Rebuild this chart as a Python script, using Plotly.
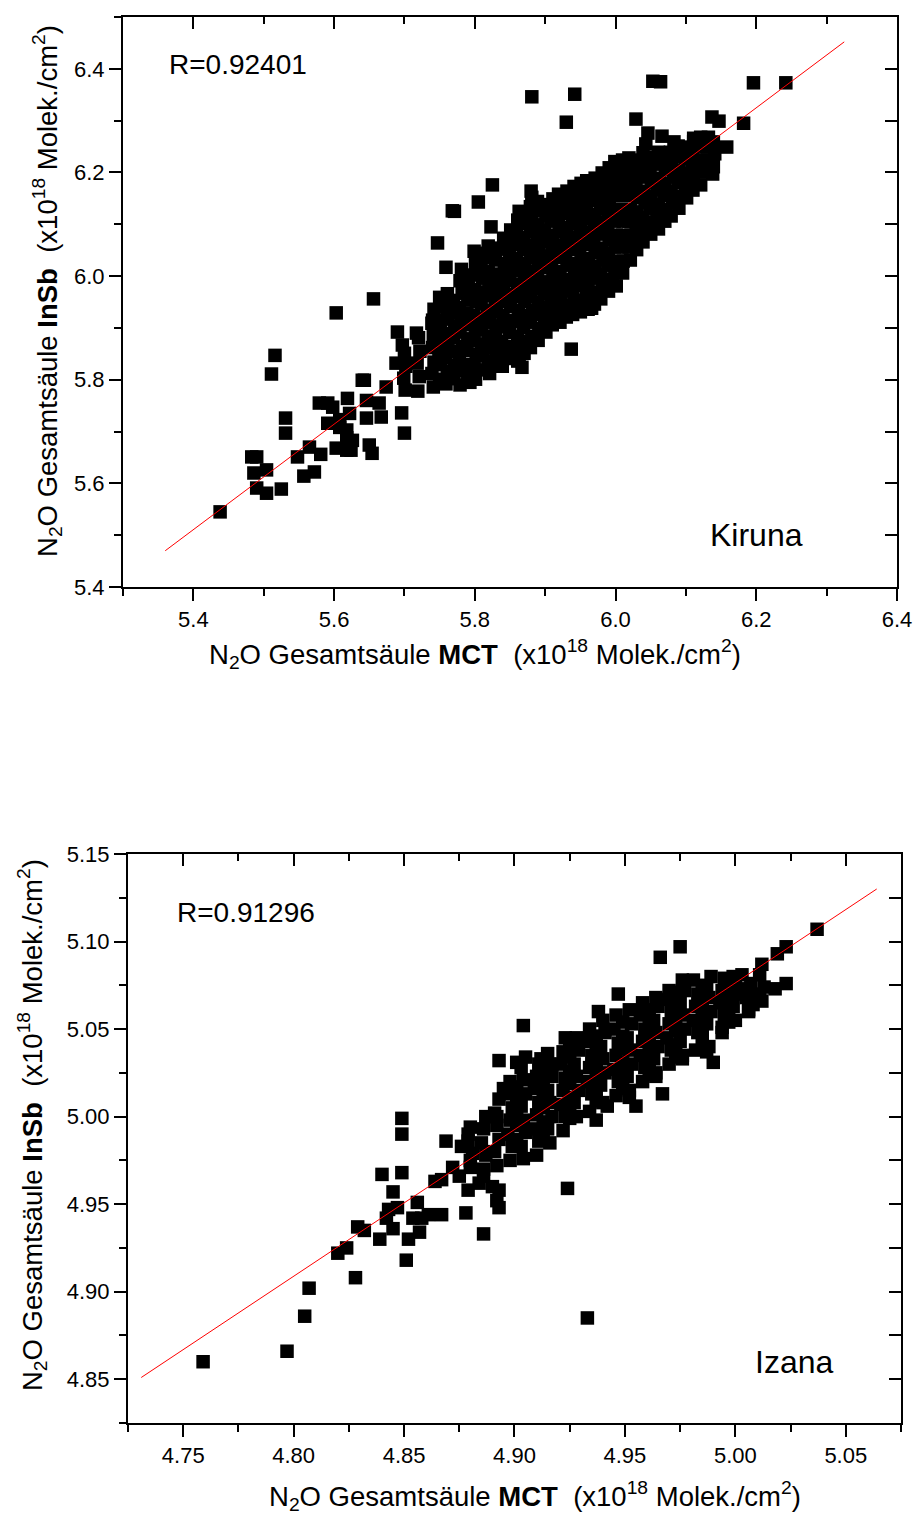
import plotly.graph_objects as go

# N2O total columns, MCT (x) vs InSb (y), in 1e18 molec/cm2
kiruna_points = [
    # scattered points, lower left
    (5.438, 5.545), (5.483, 5.651), (5.490, 5.651), (5.486, 5.620), (5.504, 5.626),
    (5.490, 5.591), (5.504, 5.581), (5.525, 5.589), (5.516, 5.847), (5.511, 5.811),
    (5.531, 5.726), (5.531, 5.697), (5.548, 5.651), (5.565, 5.670), (5.557, 5.614),
    (5.572, 5.622), (5.581, 5.656), (5.591, 5.755), (5.591, 5.716), (5.603, 5.668),
    (5.618, 5.664), (5.619, 5.764), (5.622, 5.735), (5.618, 5.703), (5.626, 5.683),
    (5.608, 5.708), (5.643, 5.799), (5.646, 5.760), (5.646, 5.726), (5.650, 5.674),
    (5.654, 5.658), (5.664, 5.755), (5.667, 5.728), (5.674, 5.786), (5.696, 5.736),
    (5.700, 5.697), (5.688, 5.832), (5.690, 5.892), (5.697, 5.867), (5.603, 5.929),
    (5.656, 5.956), (5.747, 6.064), (5.768, 6.126), (5.759, 6.017), (5.750, 5.959),
    (5.748, 5.915), (5.717, 5.890), (5.740, 5.915), (5.579, 5.755), (5.598, 5.747),
    (5.608, 5.723), (5.618, 5.688), (5.640, 5.799), (5.624, 5.664),
    # scattered points, upper right and below the band
    (5.881, 6.346), (5.942, 6.351), (5.930, 6.297), (6.053, 6.376), (6.064, 6.375),
    (6.196, 6.373), (6.242, 6.373), (6.029, 6.303), (6.182, 6.295), (6.147, 6.299),
    (6.046, 6.276), (6.066, 6.270), (6.043, 6.255), (6.083, 6.259), (6.111, 6.266),
    (6.132, 6.268), (6.158, 6.249), (6.138, 6.197), (5.825, 6.176), (5.805, 6.143),
    (5.771, 6.125), (5.823, 6.095), (5.880, 6.164), (5.863, 6.125), (6.023, 6.077),
    (6.059, 6.112), (5.995, 5.983), (5.966, 5.938), (5.966, 5.965), (5.905, 5.915),
    (5.910, 5.958), (5.937, 5.859), (5.863, 5.844), (5.867, 5.824), (5.793, 5.795),
    (5.835, 5.857), (6.137, 6.307),
    # dense band
    (5.701, 5.780), (5.699, 5.803), (5.702, 5.826), (5.700, 5.851),
    (5.719, 5.778), (5.721, 5.806), (5.718, 5.832), (5.722, 5.855), (5.720, 5.881),
    (5.741, 5.786), (5.739, 5.812), (5.742, 5.834), (5.740, 5.862), (5.741, 5.884),
    (5.739, 5.909), (5.742, 5.936),
    (5.759, 5.792), (5.761, 5.816), (5.758, 5.842), (5.762, 5.866), (5.760, 5.889),
    (5.761, 5.917), (5.758, 5.941), (5.761, 5.966),
    (5.779, 5.790), (5.781, 5.817), (5.778, 5.841), (5.782, 5.864), (5.779, 5.892),
    (5.781, 5.916), (5.778, 5.939), (5.782, 5.967), (5.779, 5.991), (5.781, 6.013),
    (5.801, 5.801), (5.799, 5.826), (5.802, 5.849), (5.799, 5.876), (5.801, 5.901),
    (5.798, 5.924), (5.802, 5.951), (5.800, 5.974), (5.799, 6.002), (5.801, 6.024),
    (5.799, 6.048),
    (5.821, 5.812), (5.819, 5.836), (5.822, 5.861), (5.819, 5.884), (5.821, 5.911),
    (5.818, 5.934), (5.822, 5.962), (5.820, 5.986), (5.819, 6.009), (5.821, 6.036),
    (5.819, 6.058),
    (5.839, 5.826), (5.841, 5.851), (5.838, 5.874), (5.842, 5.902), (5.840, 5.924),
    (5.838, 5.951), (5.841, 5.976), (5.839, 6.001), (5.842, 6.024), (5.839, 6.052),
    (5.841, 6.073),
    (5.861, 5.836), (5.859, 5.861), (5.861, 5.884), (5.859, 5.912), (5.862, 5.934),
    (5.858, 5.961), (5.861, 5.984), (5.860, 6.011), (5.859, 6.034), (5.862, 6.061),
    (5.859, 6.084), (5.861, 6.108),
    (5.879, 5.862), (5.881, 5.884), (5.879, 5.911), (5.882, 5.934), (5.880, 5.961),
    (5.878, 5.986), (5.881, 6.009), (5.879, 6.036), (5.882, 6.059), (5.879, 6.086),
    (5.881, 6.109), (5.879, 6.134), (5.881, 6.152),
    (5.901, 5.892), (5.899, 5.916), (5.902, 5.939), (5.899, 5.966), (5.901, 5.989),
    (5.898, 6.016), (5.902, 6.039), (5.900, 6.066), (5.899, 6.089), (5.901, 6.116),
    (5.899, 6.138),
    (5.921, 5.911), (5.919, 5.936), (5.922, 5.959), (5.919, 5.986), (5.921, 6.009),
    (5.918, 6.036), (5.922, 6.059), (5.920, 6.086), (5.919, 6.109), (5.921, 6.136),
    (5.919, 6.158),
    (5.939, 5.926), (5.941, 5.951), (5.939, 5.974), (5.942, 6.001), (5.940, 6.024),
    (5.938, 6.051), (5.941, 6.074), (5.939, 6.101), (5.942, 6.124), (5.939, 6.151),
    (5.941, 6.173),
    (5.961, 5.936), (5.959, 5.961), (5.961, 5.984), (5.959, 6.011), (5.962, 6.034),
    (5.958, 6.061), (5.961, 6.084), (5.960, 6.111), (5.959, 6.134), (5.962, 6.161),
    (5.959, 6.184),
    (5.979, 5.956), (5.981, 5.981), (5.979, 6.004), (5.982, 6.031), (5.980, 6.054),
    (5.978, 6.081), (5.981, 6.104), (5.979, 6.131), (5.982, 6.154), (5.979, 6.179),
    (5.981, 6.199),
    (6.001, 5.981), (5.999, 6.006), (6.002, 6.029), (5.999, 6.056), (6.001, 6.079),
    (5.998, 6.106), (6.002, 6.129), (6.000, 6.156), (5.999, 6.179), (6.001, 6.204),
    (5.999, 6.221),
    (6.021, 6.031), (6.019, 6.056), (6.022, 6.079), (6.019, 6.106), (6.021, 6.129),
    (6.018, 6.156), (6.022, 6.179), (6.020, 6.204), (6.019, 6.228),
    (6.039, 6.066), (6.041, 6.091), (6.039, 6.114), (6.042, 6.141), (6.040, 6.164),
    (6.038, 6.191), (6.041, 6.214), (6.039, 6.238),
    (6.061, 6.091), (6.059, 6.116), (6.061, 6.139), (6.059, 6.166), (6.062, 6.189),
    (6.058, 6.216), (6.061, 6.239),
    (6.079, 6.116), (6.081, 6.141), (6.079, 6.164), (6.082, 6.191), (6.080, 6.214),
    (6.078, 6.239),
    (6.101, 6.151), (6.099, 6.176), (6.102, 6.199), (6.099, 6.226), (6.101, 6.249),
    (6.121, 6.176), (6.119, 6.201), (6.122, 6.224), (6.119, 6.251), (6.121, 6.268),
    (6.139, 6.211), (6.141, 6.236), (6.139, 6.259),
    # dense band, points between the columns above
    (5.750, 5.801), (5.751, 5.829), (5.749, 5.854), (5.750, 5.879), (5.751, 5.903),
    (5.770, 5.802), (5.771, 5.828), (5.769, 5.854), (5.770, 5.881), (5.771, 5.904),
    (5.769, 5.929), (5.770, 5.953),
    (5.790, 5.804), (5.791, 5.829), (5.789, 5.856), (5.790, 5.879), (5.791, 5.906),
    (5.789, 5.929), (5.790, 5.954), (5.791, 5.979), (5.789, 6.001),
    (5.810, 5.819), (5.811, 5.846), (5.809, 5.869), (5.810, 5.896), (5.811, 5.919),
    (5.809, 5.946), (5.810, 5.969), (5.811, 5.996), (5.809, 6.019), (5.810, 6.044),
    (5.830, 5.831), (5.831, 5.854), (5.829, 5.881), (5.830, 5.904), (5.831, 5.931),
    (5.829, 5.954), (5.830, 5.981), (5.831, 6.004), (5.829, 6.031), (5.830, 6.054),
    (5.850, 5.841), (5.851, 5.864), (5.849, 5.891), (5.850, 5.914), (5.851, 5.941),
    (5.849, 5.964), (5.850, 5.991), (5.851, 6.014), (5.849, 6.041), (5.850, 6.064),
    (5.851, 6.089),
    (5.870, 5.851), (5.871, 5.874), (5.869, 5.901), (5.870, 5.924), (5.871, 5.951),
    (5.869, 5.974), (5.870, 6.001), (5.871, 6.024), (5.869, 6.051), (5.870, 6.074),
    (5.871, 6.101), (5.869, 6.124),
    (5.890, 5.876), (5.891, 5.899), (5.889, 5.926), (5.890, 5.949), (5.891, 5.976),
    (5.889, 5.999), (5.890, 6.026), (5.891, 6.049), (5.889, 6.076), (5.890, 6.099),
    (5.891, 6.126), (5.889, 6.144),
    (5.910, 5.906), (5.911, 5.929), (5.909, 5.956), (5.910, 5.979), (5.911, 6.006),
    (5.909, 6.029), (5.910, 6.056), (5.911, 6.079), (5.909, 6.106), (5.910, 6.129),
    (5.911, 6.149),
    (5.930, 5.921), (5.931, 5.944), (5.929, 5.971), (5.930, 5.994), (5.931, 6.021),
    (5.929, 6.044), (5.930, 6.071), (5.931, 6.094), (5.929, 6.121), (5.930, 6.144),
    (5.931, 6.164),
    (5.950, 5.931), (5.951, 5.954), (5.949, 5.981), (5.950, 6.004), (5.951, 6.031),
    (5.949, 6.054), (5.950, 6.081), (5.951, 6.104), (5.949, 6.131), (5.950, 6.154),
    (5.951, 6.179),
    (5.970, 5.946), (5.971, 5.969), (5.969, 5.996), (5.970, 6.019), (5.971, 6.046),
    (5.969, 6.069), (5.970, 6.096), (5.971, 6.119), (5.969, 6.146), (5.970, 6.169),
    (5.971, 6.189),
    (5.990, 5.971), (5.991, 5.994), (5.989, 6.021), (5.990, 6.044), (5.991, 6.071),
    (5.989, 6.094), (5.990, 6.121), (5.991, 6.144), (5.989, 6.171), (5.990, 6.194),
    (5.991, 6.209),
    (6.010, 6.006), (6.011, 6.029), (6.009, 6.056), (6.010, 6.079), (6.011, 6.106),
    (6.009, 6.129), (6.010, 6.156), (6.011, 6.179), (6.009, 6.204), (6.010, 6.224),
    (6.030, 6.051), (6.031, 6.074), (6.029, 6.101), (6.030, 6.124), (6.031, 6.151),
    (6.029, 6.174), (6.030, 6.201), (6.031, 6.224),
    (6.050, 6.081), (6.051, 6.104), (6.049, 6.131), (6.050, 6.154), (6.051, 6.181),
    (6.049, 6.204), (6.050, 6.229),
    (6.070, 6.106), (6.071, 6.129), (6.069, 6.156), (6.070, 6.179), (6.071, 6.206),
    (6.069, 6.229),
    (6.090, 6.131), (6.091, 6.154), (6.089, 6.181), (6.090, 6.204), (6.091, 6.231),
    (6.089, 6.251),
    (6.110, 6.166), (6.111, 6.189), (6.109, 6.216), (6.110, 6.239), (6.111, 6.259),
    (6.130, 6.201), (6.131, 6.224), (6.129, 6.249),
]

izana_points = [
    # scattered points
    (4.759, 4.860), (4.797, 4.866), (4.805, 4.886), (4.807, 4.902), (4.828, 4.908),
    (4.820, 4.922), (4.824, 4.925), (4.829, 4.937), (4.832, 4.935), (4.839, 4.930),
    (4.840, 4.967), (4.849, 4.968), (4.845, 4.957), (4.843, 4.947), (4.842, 4.942),
    (4.845, 4.936), (4.847, 4.948), (4.856, 4.951), (4.854, 4.942), (4.858, 4.942),
    (4.852, 4.930), (4.857, 4.934), (4.851, 4.918), (4.867, 4.944), (4.864, 4.963),
    (4.867, 4.964), (4.872, 4.971), (4.849, 4.999), (4.849, 4.990), (4.869, 4.986),
    (4.878, 4.945), (4.886, 4.933), (4.924, 4.959), (4.937, 4.998), (4.895, 5.016),
    (4.892, 5.000), (4.879, 4.990), (4.876, 4.983), (4.879, 4.958), (4.884, 4.962),
    (4.890, 4.960), (4.892, 4.952), (4.893, 4.948), (4.933, 4.885), (4.875, 4.966),
    (4.880, 4.975), (4.861, 4.944), (4.886, 4.966), (4.893, 4.958),
    (5.037, 5.107), (5.023, 5.097), (5.019, 5.093), (5.012, 5.087), (5.023, 5.076),
    (5.018, 5.073), (4.975, 5.097), (4.966, 5.091), (4.947, 5.070), (4.938, 5.060),
    (4.904, 5.052), (4.893, 5.032), (4.901, 5.031), (4.905, 5.034), (4.912, 5.033),
    (4.952, 5.011), (4.955, 5.006), (4.967, 5.013), (4.990, 5.031), (4.994, 5.051),
    (4.987, 5.037), (4.976, 5.033), (4.964, 5.023), (4.942, 5.006), (5.006, 5.061),
    (5.008, 5.064), (4.999, 5.080), (5.003, 5.081), (5.005, 5.073), (5.011, 5.070),
    (4.996, 5.062),
    # dense band
    (4.880, 4.971), (4.881, 4.979), (4.879, 4.986), (4.880, 4.994),
    (4.886, 4.970), (4.887, 4.978), (4.885, 4.985), (4.886, 4.993), (4.887, 5.000),
    (4.892, 4.972), (4.891, 4.980), (4.893, 4.987), (4.892, 4.995), (4.891, 5.002),
    (4.893, 5.010),
    (4.898, 4.975), (4.899, 4.983), (4.897, 4.990), (4.898, 4.998), (4.899, 5.005),
    (4.897, 5.013), (4.898, 5.020),
    (4.904, 4.976), (4.903, 4.983), (4.905, 4.991), (4.904, 4.998), (4.903, 5.006),
    (4.905, 5.013), (4.904, 5.021), (4.903, 5.028),
    (4.910, 4.978), (4.911, 4.986), (4.909, 4.993), (4.910, 5.001), (4.911, 5.008),
    (4.909, 5.016), (4.910, 5.023), (4.911, 5.030),
    (4.916, 4.985), (4.915, 4.993), (4.917, 5.000), (4.916, 5.008), (4.915, 5.015),
    (4.917, 5.023), (4.916, 5.030), (4.915, 5.036),
    (4.922, 4.992), (4.923, 5.000), (4.921, 5.007), (4.922, 5.015), (4.923, 5.022),
    (4.921, 5.030), (4.922, 5.037), (4.923, 5.045),
    (4.928, 5.000), (4.927, 5.008), (4.929, 5.015), (4.928, 5.023), (4.927, 5.030),
    (4.929, 5.038), (4.928, 5.045),
    (4.934, 5.003), (4.935, 5.013), (4.933, 5.020), (4.934, 5.028), (4.935, 5.035),
    (4.933, 5.043), (4.934, 5.050),
    (4.940, 5.008), (4.939, 5.018), (4.941, 5.025), (4.940, 5.033), (4.939, 5.040),
    (4.941, 5.048), (4.940, 5.055),
    (4.946, 5.012), (4.947, 5.020), (4.945, 5.027), (4.946, 5.035), (4.947, 5.042),
    (4.945, 5.050), (4.946, 5.058),
    (4.952, 5.015), (4.951, 5.023), (4.953, 5.030), (4.952, 5.038), (4.951, 5.045),
    (4.953, 5.053), (4.952, 5.061),
    (4.958, 5.020), (4.959, 5.028), (4.957, 5.035), (4.958, 5.043), (4.959, 5.050),
    (4.957, 5.058), (4.958, 5.065),
    (4.964, 5.025), (4.963, 5.033), (4.965, 5.040), (4.964, 5.048), (4.963, 5.055),
    (4.965, 5.063), (4.964, 5.068),
    (4.970, 5.030), (4.971, 5.038), (4.969, 5.045), (4.970, 5.053), (4.971, 5.060),
    (4.969, 5.067), (4.970, 5.072),
    (4.976, 5.035), (4.975, 5.043), (4.977, 5.050), (4.976, 5.058), (4.975, 5.065),
    (4.977, 5.072), (4.976, 5.078),
    (4.982, 5.038), (4.983, 5.048), (4.981, 5.055), (4.982, 5.063), (4.983, 5.070),
    (4.981, 5.078),
    (4.988, 5.040), (4.987, 5.053), (4.989, 5.060), (4.988, 5.068), (4.987, 5.075),
    (4.989, 5.080),
    (4.994, 5.048), (4.995, 5.058), (4.993, 5.065), (4.994, 5.072), (4.995, 5.079),
    (5.000, 5.055), (4.999, 5.063), (5.001, 5.070), (5.000, 5.077),
    (5.006, 5.060), (5.005, 5.068), (5.007, 5.076),
    (5.012, 5.066), (5.013, 5.074), (5.011, 5.081),
    # dense band, points between the columns above
    (4.901, 4.987), (4.901, 4.995), (4.901, 5.002), (4.901, 5.010), (4.901, 5.017),
    (4.913, 4.990), (4.913, 4.997), (4.913, 5.005), (4.913, 5.012), (4.913, 5.020),
    (4.913, 5.027),
    (4.925, 4.999), (4.925, 5.004), (4.925, 5.011), (4.925, 5.019), (4.925, 5.026),
    (4.925, 5.034), (4.925, 5.041),
    (4.937, 5.009), (4.937, 5.016), (4.937, 5.024), (4.937, 5.031), (4.937, 5.039),
    (4.937, 5.046),
    (4.949, 5.016), (4.949, 5.024), (4.949, 5.031), (4.949, 5.039), (4.949, 5.046),
    (4.949, 5.054),
    (4.961, 5.024), (4.961, 5.031), (4.961, 5.039), (4.961, 5.046), (4.961, 5.054),
    (4.961, 5.061),
    (4.973, 5.034), (4.973, 5.041), (4.973, 5.049), (4.973, 5.056), (4.973, 5.064),
    (4.973, 5.071),
    (4.985, 5.044), (4.985, 5.051), (4.985, 5.059), (4.985, 5.066), (4.985, 5.073),
    (4.997, 5.054), (4.997, 5.061), (4.997, 5.068), (4.997, 5.075),
]

kiruna_mct = [p[0] for p in kiruna_points]
kiruna_insb = [p[1] for p in kiruna_points]
izana_mct = [p[0] for p in izana_points]
izana_insb = [p[1] for p in izana_points]

# linear fits (end points of the red lines)
kiruna_fit_x = [5.36, 6.325]
kiruna_fit_y = [5.47, 6.452]
izana_fit_x = [4.731, 5.064]
izana_fit_y = [4.851, 5.130]

kiruna_r = "R=0.92401"
izana_r = "R=0.91296"

kiruna_xrange = [5.3, 6.4]
kiruna_yrange = [5.4, 6.5]
izana_xrange = [4.725, 5.075]
izana_yrange = [4.825, 5.15]

FONT = "Liberation Sans, Arial, sans-serif"
sp = "\u00a0"
xtitle = "N<sub>2</sub>O Gesamtsäule <b>MCT</b>" + sp + sp + "(x10<sup>18</sup> Molek./cm<sup>2</sup>)"
ytitle = "N<sub>2</sub>O Gesamtsäule <b>InSb</b>" + sp + sp + "(x10<sup>18</sup> Molek./cm<sup>2</sup>)"


def base_axis(rng, dtick, minor_dtick, fmt, domain, anchor):
    return dict(range=rng, domain=domain, anchor=anchor,
                showline=True, linecolor="black", linewidth=2,
                ticks="outside", ticklen=12, tickwidth=2, tickcolor="black",
                tick0=0, dtick=dtick, tickformat=fmt,
                minor=dict(dtick=minor_dtick, tick0=0, ticks="outside", ticklen=7,
                           tickwidth=2, tickcolor="black"),
                tickfont=dict(size=22, color="black", family=FONT),
                showgrid=False, zeroline=False, automargin=False)


def inner_x(rng, dtick, minor_dtick, over, anchor):
    return dict(range=rng, overlaying=over, side="top", anchor=anchor,
                showline=True, linecolor="black", linewidth=2,
                ticks="inside", ticklen=12, tickwidth=2, tickcolor="black",
                tick0=0, dtick=dtick, showticklabels=False,
                minor=dict(dtick=minor_dtick, tick0=0, ticks="inside", ticklen=7,
                           tickwidth=2, tickcolor="black"),
                showgrid=False, zeroline=False, automargin=False)


def inner_y(rng, dtick, over, anchor):
    return dict(range=rng, overlaying=over, side="right", anchor=anchor,
                showline=True, linecolor="black", linewidth=2,
                ticks="inside", ticklen=12, tickwidth=2, tickcolor="black",
                tick0=0, dtick=dtick, showticklabels=False,
                showgrid=False, zeroline=False, automargin=False)


fig = go.Figure()

marker = dict(symbol="square", size=13.5, color="black", line=dict(width=0))

fig.add_trace(go.Scatter(x=kiruna_mct, y=kiruna_insb, mode="markers", marker=marker,
                         xaxis="x", yaxis="y"))
fig.add_trace(go.Scatter(x=kiruna_fit_x, y=kiruna_fit_y, mode="lines",
                         line=dict(color="red", width=1), xaxis="x", yaxis="y"))
fig.add_trace(go.Scatter(x=izana_mct, y=izana_insb, mode="markers", marker=marker,
                         xaxis="x2", yaxis="y2"))
fig.add_trace(go.Scatter(x=izana_fit_x, y=izana_fit_y, mode="lines",
                         line=dict(color="red", width=1), xaxis="x2", yaxis="y2"))
# empty traces so the mirrored (inside-tick) axes get drawn
fig.add_trace(go.Scatter(x=[None], y=[None], xaxis="x3", yaxis="y3", hoverinfo="skip"))
fig.add_trace(go.Scatter(x=[None], y=[None], xaxis="x4", yaxis="y4", hoverinfo="skip"))

fig.update_layout(
    width=915, height=1517,
    margin=dict(l=0, r=0, t=0, b=0, autoexpand=False),
    paper_bgcolor="white", plot_bgcolor="white",
    showlegend=False,
    font=dict(family=FONT, color="black"),
    xaxis=base_axis(kiruna_xrange, 0.2, 0.1, ".1f", [0.13443, 0.98033], "y"),
    yaxis=base_axis(kiruna_yrange, 0.2, 0.1, ".1f", [0.61305, 0.98879], "x"),
    xaxis2=base_axis(izana_xrange, 0.05, 0.025, ".2f", [0.13989, 0.98470], "y2"),
    yaxis2=base_axis(izana_yrange, 0.05, 0.025, ".2f", [0.06196, 0.43705], "x2"),
    xaxis3=inner_x(kiruna_xrange, 0.2, 0.1, "x", "y"),
    yaxis3=inner_y(kiruna_yrange, 0.1, "y", "x"),
    xaxis4=inner_x(izana_xrange, 0.05, 0.025, "x2", "y2"),
    yaxis4=inner_y(izana_yrange, 0.025, "y2", "x2"),
)

annotations = [
    dict(text=kiruna_r, x=0.1825, y=0.9572, xanchor="left", yanchor="middle", font=dict(size=28)),
    dict(text="Kiruna", x=0.7738, y=0.6473, xanchor="left", yanchor="middle", font=dict(size=32)),
    dict(text=izana_r, x=0.1913, y=0.3982, xanchor="left", yanchor="middle", font=dict(size=28)),
    dict(text="Izana", x=0.8230, y=0.1022, xanchor="left", yanchor="middle", font=dict(size=32)),
    dict(text=xtitle, x=0.5191, y=0.5689, xanchor="center", yanchor="middle", font=dict(size=27.5)),
    dict(text=xtitle, x=0.5847, y=0.0138, xanchor="center", yanchor="middle", font=dict(size=27.5)),
    dict(text=ytitle, x=0.0514, y=0.8082, xanchor="center", yanchor="middle", textangle=-90,
         font=dict(size=27.5)),
    dict(text=ytitle, x=0.035, y=0.2584, xanchor="center", yanchor="middle", textangle=-90,
         font=dict(size=27.5)),
]
for a in annotations:
    a.update(xref="paper", yref="paper", showarrow=False)
    a["font"].update(family=FONT, color="black")
fig.update_layout(annotations=annotations)

# the figure is exactly the window size, so drop the page's default body margin
fig.write_html("out.html", config={"displayModeBar": False},
               post_script="document.body.style.margin='0';")
